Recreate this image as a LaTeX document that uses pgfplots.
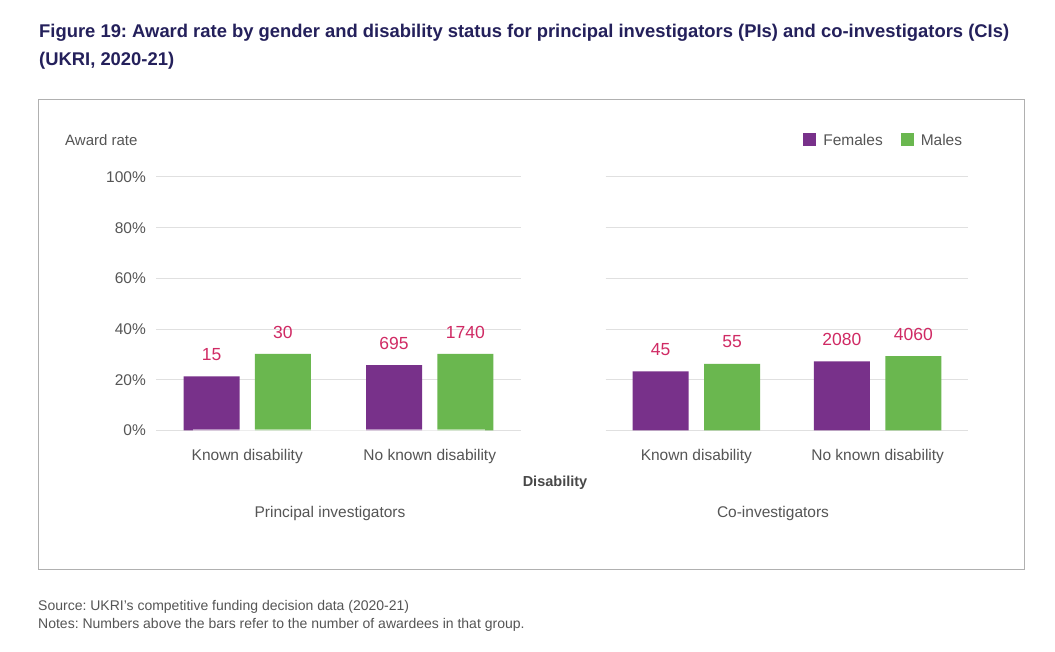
\documentclass[border=0pt]{standalone}
\usepackage{pgfplots}
\pgfplotsset{compat=1.18}
\usepackage{fontspec}
\setmainfont{Liberation Sans}
\frenchspacing
\definecolor{titlecol}{HTML}{24205B}
\definecolor{fem}{HTML}{78318A}
\definecolor{mal}{HTML}{6AB74F}
\definecolor{numred}{HTML}{D02A64}
\definecolor{gridgray}{HTML}{E0E0E0}
\definecolor{txtgray}{HTML}{555555}
\definecolor{framegray}{HTML}{B0B0B0}
\pgfplotsset{
  panel/.style={
    scale only axis, clip=false,
    xmin=-0.5, xmax=1.5, ymin=0, ymax=100,
    axis line style={draw=none}, tick style={draw=none},
    major tick length=0pt,
    ytick={0,20,40,60,80,100},
    ymajorgrids, grid style={draw=gridgray, line width=1pt},
    xtick={0,1}, xticklabels={Known disability, No known disability},
    xticklabel style={font=\fontsize{15.5}{18}\selectfont, color=txtgray, inner sep=0pt, anchor=north, yshift=-19pt},
    yticklabel style={font=\fontsize{15.5}{18}\selectfont, color=txtgray, inner sep=0pt, anchor=east, xshift=-10pt},
    /pgf/number format/assume math mode=true,
    ybar=15.4pt, bar width=56pt,
    point meta=explicit symbolic,
    nodes near coords,
    nodes near coords style={font=\fontsize{17.5}{20}\selectfont, color=numred, inner sep=0pt, anchor=south, yshift=15.5pt},
  }
}
\begin{document}
\begin{tikzpicture}[x=1pt,y=1pt]
\useasboundingbox (0,0) rectangle (1055,652);
\fill[white] (0,0) rectangle (1055,652);
% title
\node[anchor=base west, inner sep=0pt, font=\fontsize{18.4}{22}\selectfont\bfseries, color=titlecol] at (39,614.7) {Figure 19: Award rate by gender and disability status for principal investigators (PIs) and co-investigators (CIs)};
\node[anchor=base west, inner sep=0pt, font=\fontsize{18.4}{22}\selectfont\bfseries, color=titlecol] at (39,586) {(UKRI, 2020-21)};
% frame
\draw[framegray, line width=1pt] (38,82) rectangle (1024,552);
\node[anchor=base west, inner sep=0pt, font=\fontsize{15}{18}\selectfont, color=txtgray] at (65,506.5) {Award rate};

\begin{axis}[panel,
  at={(156pt,221.5pt)}, anchor=south west,
  width=365pt, height=253.5pt,
  yticklabels={0\%,20\%,40\%,60\%,80\%,100\%},
]
\addplot[draw=none, fill=fem] coordinates {(0,21.3) [15] (1,25.8) [695]};
\addplot[draw=none, fill=mal] coordinates {(0,30.2) [30] (1,30.2) [1740]};
\draw[white, opacity=0.45, line width=2.5pt] (axis cs:-0.3,0) -- (axis cs:1.3,0);
\end{axis}

\begin{axis}[panel,
  at={(605.7pt,221.5pt)}, anchor=south west,
  width=362.6pt, height=253.5pt,
  yticklabels={},
  legend columns=2,
  legend image code/.code={\fill[#1] (0pt,-5.5pt) rectangle (13pt,7.5pt);},
  legend style={at={(1,1)}, anchor=south east, xshift=-6pt, yshift=30pt,
    draw=none, fill=none, inner sep=0pt,
    font=\fontsize{15.5}{18}\selectfont, text=txtgray,
    nodes={inner sep=0pt},
    /tikz/every odd column/.append style={column sep=7pt},
    /tikz/every even column/.append style={column sep=18pt}},
]
\addplot[draw=none, fill=fem] coordinates {(0,23.3) [45] (1,27.3) [2080]};
\addplot[draw=none, fill=mal] coordinates {(0,26.3) [55] (1,29.3) [4060]};
\legend{Females, Males}
\end{axis}

\node[anchor=base, inner sep=0pt, font=\fontsize{14.5}{17}\selectfont\bfseries, color=txtgray!85!black] at (555,165.5) {Disability};
\node[anchor=base, inner sep=0pt, font=\fontsize{15.5}{18}\selectfont, color=txtgray] at (330,134.5) {Principal investigators};
\node[anchor=base, inner sep=0pt, font=\fontsize{15.5}{18}\selectfont, color=txtgray] at (773,134.5) {Co-investigators};

\node[anchor=base west, inner sep=0pt, font=\fontsize{14}{16}\selectfont, color=txtgray] at (38,41) {Source: UKRI’s competitive funding decision data (2020-21)};
\node[anchor=base west, inner sep=0pt, font=\fontsize{14}{16}\selectfont, color=txtgray] at (38,23) {Notes: Numbers above the bars refer to the number of awardees in that group.};
\end{tikzpicture}
\end{document}
